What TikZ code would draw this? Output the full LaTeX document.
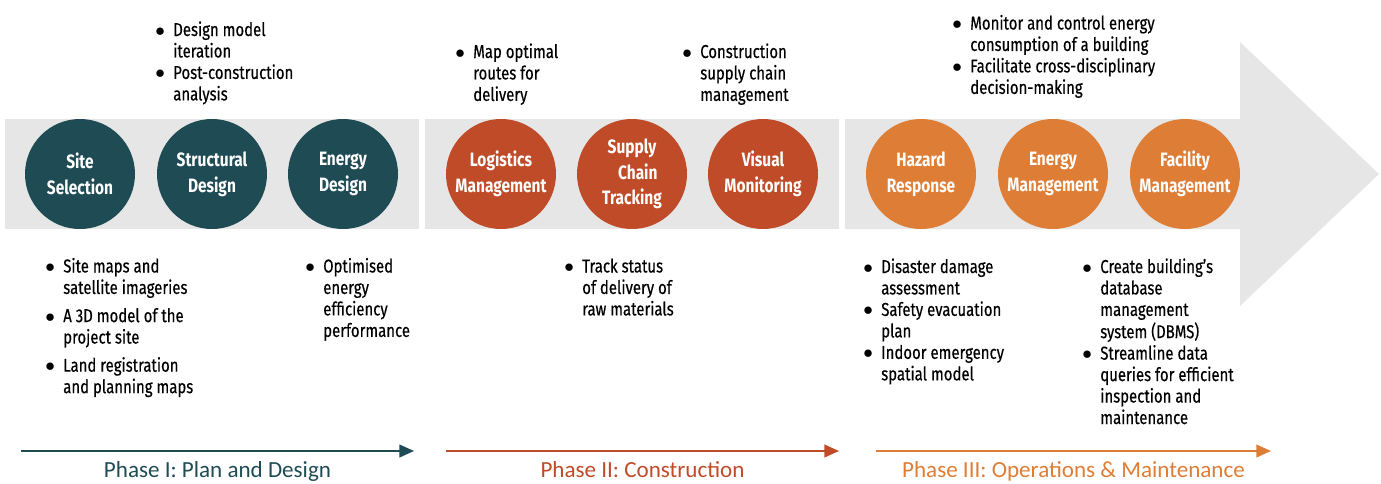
\documentclass[tikz,border=0pt]{standalone}
\usepackage{fontspec}
\usepackage{tikz}
\usetikzlibrary{arrows.meta}

\newfontfamily\dinfont[FakeStretch=0.8]{Fira Sans}
\newfontfamily\notefont[FakeStretch=0.8,FakeBold=0.4]{Fira Sans}
\newfontfamily\phasefont{Carlito}
\definecolor{planteal}{RGB}{31,75,85}
\definecolor{buildrust}{RGB}{192,75,40}
\definecolor{operorange}{RGB}{222,125,53}
\definecolor{bandgrey}{RGB}{230,230,230}
\newcommand{\bu}{\makebox[13.5pt][l]{$\bullet$}}

\begin{document}
\begin{tikzpicture}[x=0.75pt,y=0.75pt,yscale=-1,xscale=1,
    stage/.style={circle,fill=#1,minimum size=82.5pt,inner sep=0pt,text=white,align=center,
        font={\dinfont\bfseries\fontsize{14.5}{19.3}\selectfont}},
    notes/.style={anchor=base west,inner sep=0pt,font={\notefont\fontsize{14}{16.1}\selectfont}},
    phasearrow/.style={draw=#1,line width=1.5pt,-{Triangle[length=11pt,width=9.5pt]}},
    phaselabel/.style={anchor=base,inner sep=0pt,text=#1,font={\phasefont\fontsize{17.3}{20}\selectfont}}]
        \useasboundingbox (0,0) rectangle (1381,483);

        %Shape: Rectangle
        \draw  [draw=none,fill=bandgrey] (5,119) rectangle (419,229) ;
        %Shape: Rectangle
        \draw  [draw=none,fill=bandgrey] (425,119) rectangle (839,229) ;
        %Shape: Right Arrow
        \draw  [draw=none,fill=bandgrey] (845,119) -- (1240,119) -- (1240,42) -- (1379,174) -- (1240,306) -- (1240,229) -- (845,229) -- cycle ;

        % Phase I circles
        \node [stage=planteal] (site) at (80,174) {Site\\Selection};
        \node [stage=planteal] (struct) at (212,174) {Structural\\Design};
        \node [stage=planteal] (energyd) at (343,174) {Energy\\Design};
        % Phase II circles
        \node [stage=buildrust] (logist) at (501,174) {Logistics\\Management};
        \node [stage=buildrust] (supply) at (632,174) {Supply\\\hspace{0.6em}Chain\\Tracking};
        \node [stage=buildrust] (visual) at (763,174) {Visual\\Monitoring};
        % Phase III circles
        \node [stage=operorange] (hazard) at (921,174) {Hazard\\Response};
        \node [stage=operorange] (energym) at (1053,174) {Energy\\Management};
        \node [stage=operorange] (facility) at (1185,174) {Facility\\Management};

        % Text Node
        \node [notes] (structnote) at (155,36) {\begin{tabular}[t]{@{}l@{}l@{}}
            \bu & Design model\\ & iteration\\
            \bu & Post-construction\\ & analysis\end{tabular}};
        % Text Node
        \node [notes] (logistnote) at (455,58) {\begin{tabular}[t]{@{}l@{}l@{}}
            \bu & Map optimal\\ & routes for\\ & delivery\end{tabular}};
        % Text Node
        \node [notes] (visualnote) at (682,58) {\begin{tabular}[t]{@{}l@{}l@{}}
            \bu & Construction\\ & supply chain\\ & management\end{tabular}};
        % Text Node
        \node [notes] (energymnote) at (952,29.5) {\begin{tabular}[t]{@{}l@{}l@{}}
            \bu & Monitor and control energy\\ & consumption of a building\\
            \bu & Facilitate cross-disciplinary\\ & decision-making\end{tabular}};

        % Text Node
        \node [notes] (sitenote) at (45,272.5) {\begin{tabular}[t]{@{}l@{}l@{}}
            \bu & Site maps and\\ & satellite imageries\\[5pt]
            \bu & A 3D model of the\\ & project site\\[5pt]
            \bu & Land registration\\ & and planning maps\end{tabular}};
        % Text Node
        \node [notes] (energydnote) at (305,272.5) {\begin{tabular}[t]{@{}l@{}l@{}}
            \bu & Optimised\\ & energy\\ & efficiency\\ & performance\end{tabular}};
        % Text Node
        \node [notes] (supplynote) at (564,272.5) {\begin{tabular}[t]{@{}l@{}l@{}}
            \bu & Track status\\ & of delivery of\\ & raw materials\end{tabular}};
        % Text Node
        \node [notes] (hazardnote) at (863,273) {\begin{tabular}[t]{@{}l@{}l@{}}
            \bu & Disaster damage\\ & assessment\\
            \bu & Safety evacuation\\ & plan\\
            \bu & Indoor emergency\\ & spatial model\end{tabular}};
        % Text Node
        \node [notes] (facilitynote) at (1082,273) {\begin{tabular}[t]{@{}l@{}l@{}}
            \bu & Create building’s\\ & database\\ & management\\ & system (DBMS)\\
            \bu & Streamline data\\ & queries for efficient\\ & inspection and\\ & maintenance\end{tabular}};

        % Phase arrows
        \coordinate (ph1start) at (21,451);
        \coordinate (ph1end) at (414,451);
        \coordinate (ph2start) at (446,451);
        \coordinate (ph2end) at (839,451);
        \coordinate (ph3start) at (876,451);
        \coordinate (ph3end) at (1271,451);
        \draw [phasearrow=planteal] (ph1start) -- (ph1end) ;
        \draw [phasearrow=buildrust] (ph2start) -- (ph2end) ;
        \draw [phasearrow=operorange] (ph3start) -- (ph3end) ;

        % Text Node
        \node [phaselabel=planteal] (ph1label) at (217.5,477) {Phase I: Plan and Design};
        % Text Node
        \node [phaselabel=buildrust] (ph2label) at (642.5,477) {Phase II: Construction};
        % Text Node
        \node [phaselabel=operorange] (ph3label) at (1073.5,477) {Phase III: Operations \& Maintenance};

    \end{tikzpicture}
\end{document}
